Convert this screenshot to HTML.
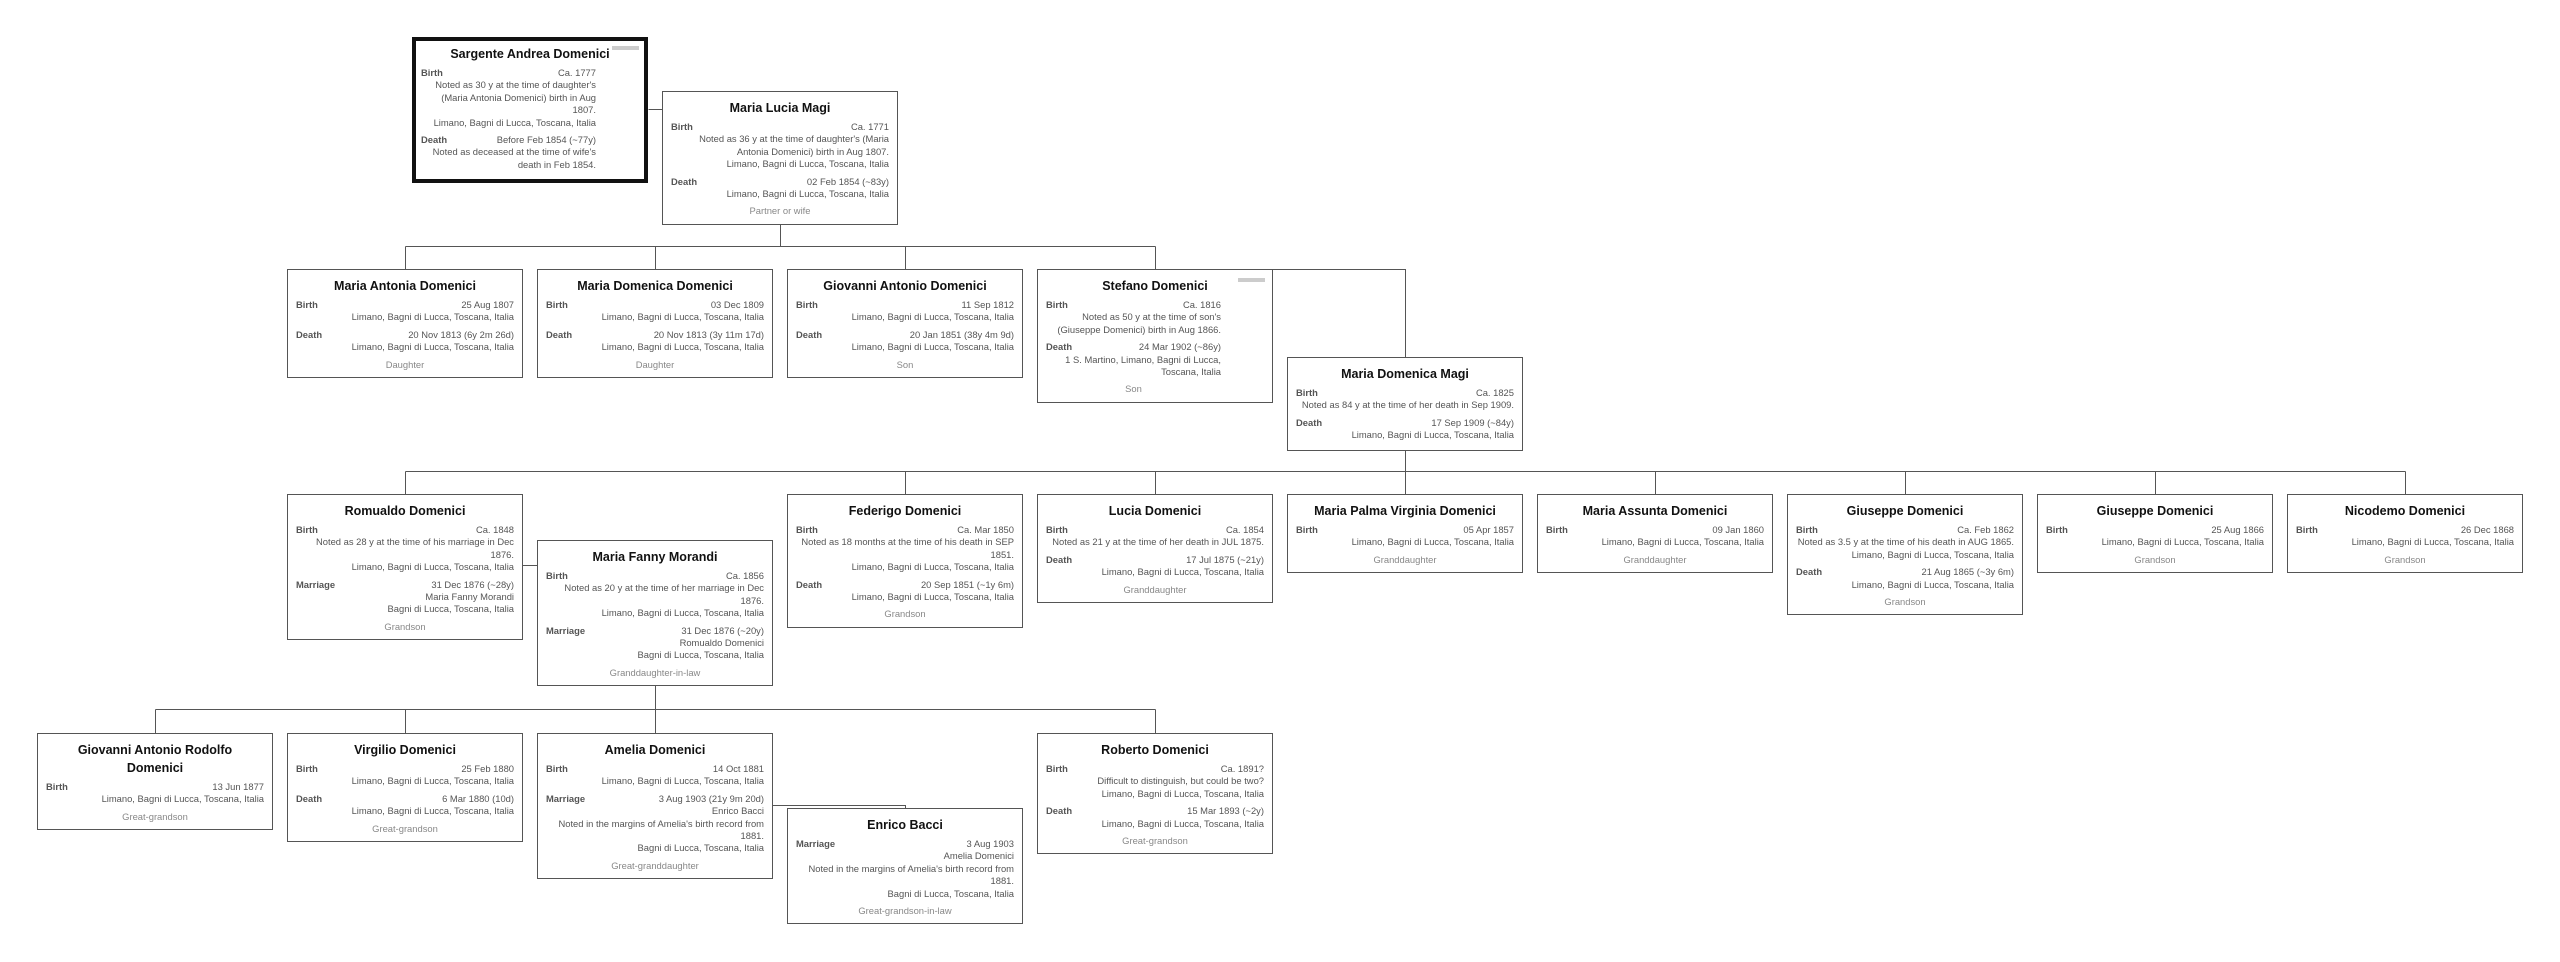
<!DOCTYPE html>
<html><head><meta charset="utf-8">
<style>
html,body{margin:0;padding:0;background:#fff;}
body{width:2560px;height:962px;position:relative;overflow:hidden;font-family:"Liberation Sans",Arial,sans-serif;}
svg.lines{position:absolute;left:0;top:0;}
.b{position:absolute;width:236px;box-sizing:border-box;border:1px solid #555;background:#fff;padding:7px 8px 6px 8px;}
.b.thick{border:4px solid #111;padding:4px 5px 3px 5px;}
.n{font-size:12.5px;font-weight:bold;color:#111;text-align:center;line-height:18px;margin-bottom:4px;}
.e{position:relative;margin-bottom:5px;font-size:9.4px;line-height:12.4px;color:#555;text-align:right;}
.e .l{position:absolute;left:0;top:0;font-weight:bold;color:#555;}
.badge .e{margin-right:43px;}
.r{font-size:9.4px;line-height:12.4px;color:#888;text-align:center;margin-top:2px;}
.bd{position:absolute;width:27px;height:4px;background:#ccc;right:7px;top:8px;}
.thick .bd{right:5px;top:5px;}
</style></head><body>
<svg class="lines" width="2560" height="962" fill="none" stroke="#555" stroke-width="1">
<path d="M648.5 109.5H662.5"/>
<path d="M780.5 222V246.5M405.5 246.5H1155.5M405.5 246.5V269M655.5 246.5V269M905.5 246.5V269M1155.5 246.5V269"/>
<path d="M1273 269.5H1405.5V357"/>
<path d="M1405.5 447V471.5M405.5 471.5H2405.5M405.5 471.5V494M905.5 471.5V494M1155.5 471.5V494M1405.5 471.5V494M1655.5 471.5V494M1905.5 471.5V494M2155.5 471.5V494M2405.5 471.5V494"/>
<path d="M523 565.5H537"/>
<path d="M655.5 686V709.5M155.5 709.5H1155.5M155.5 709.5V733M405.5 709.5V733M655.5 709.5V733M1155.5 709.5V733"/>
<path d="M773 805.5H905.5V808"/>
</svg>

<div class="b thick badge" style="left:412px;top:37px;"><div class="bd"></div>
<div class="n">Sargente Andrea Domenici</div>
<div class="e"><span class="l">Birth</span>Ca. 1777<br>Noted as 30 y at the time of daughter's<br>(Maria Antonia Domenici) birth in Aug<br>1807.<br>Limano, Bagni di Lucca, Toscana, Italia</div>
<div class="e"><span class="l">Death</span>Before Feb 1854 (~77y)<br>Noted as deceased at the time of wife's<br>death in Feb 1854.</div>
</div>

<div class="b" style="left:662px;top:91px;">
<div class="n">Maria Lucia Magi</div>
<div class="e"><span class="l">Birth</span>Ca. 1771<br>Noted as 36 y at the time of daughter's (Maria<br>Antonia Domenici) birth in Aug 1807.<br>Limano, Bagni di Lucca, Toscana, Italia</div>
<div class="e"><span class="l">Death</span>02 Feb 1854 (~83y)<br>Limano, Bagni di Lucca, Toscana, Italia</div>
<div class="r">Partner or wife</div>
</div>

<div class="b" style="left:287px;top:269px;">
<div class="n">Maria Antonia Domenici</div>
<div class="e"><span class="l">Birth</span>25 Aug 1807<br>Limano, Bagni di Lucca, Toscana, Italia</div>
<div class="e"><span class="l">Death</span>20 Nov 1813 (6y 2m 26d)<br>Limano, Bagni di Lucca, Toscana, Italia</div>
<div class="r">Daughter</div>
</div>
<div class="b" style="left:537px;top:269px;">
<div class="n">Maria Domenica Domenici</div>
<div class="e"><span class="l">Birth</span>03 Dec 1809<br>Limano, Bagni di Lucca, Toscana, Italia</div>
<div class="e"><span class="l">Death</span>20 Nov 1813 (3y 11m 17d)<br>Limano, Bagni di Lucca, Toscana, Italia</div>
<div class="r">Daughter</div>
</div>
<div class="b" style="left:787px;top:269px;">
<div class="n">Giovanni Antonio Domenici</div>
<div class="e"><span class="l">Birth</span>11 Sep 1812<br>Limano, Bagni di Lucca, Toscana, Italia</div>
<div class="e"><span class="l">Death</span>20 Jan 1851 (38y 4m 9d)<br>Limano, Bagni di Lucca, Toscana, Italia</div>
<div class="r">Son</div>
</div>
<div class="b badge" style="left:1037px;top:269px;"><div class="bd"></div>
<div class="n">Stefano Domenici</div>
<div class="e"><span class="l">Birth</span>Ca. 1816<br>Noted as 50 y at the time of son's<br>(Giuseppe Domenici) birth in Aug 1866.</div>
<div class="e"><span class="l">Death</span>24 Mar 1902 (~86y)<br>1 S. Martino, Limano, Bagni di Lucca,<br>Toscana, Italia</div>
<div class="r" style="margin-right:43px">Son</div>
</div>
<div class="b" style="left:1287px;top:357px;padding-bottom:3px;">
<div class="n">Maria Domenica Magi</div>
<div class="e"><span class="l">Birth</span>Ca. 1825<br>Noted as 84 y at the time of her death in Sep 1909.</div>
<div class="e"><span class="l">Death</span>17 Sep 1909 (~84y)<br>Limano, Bagni di Lucca, Toscana, Italia</div>
</div>

<div class="b" style="left:287px;top:494px;">
<div class="n">Romualdo Domenici</div>
<div class="e"><span class="l">Birth</span>Ca. 1848<br>Noted as 28 y at the time of his marriage in Dec<br>1876.<br>Limano, Bagni di Lucca, Toscana, Italia</div>
<div class="e"><span class="l">Marriage</span>31 Dec 1876 (~28y)<br>Maria Fanny Morandi<br>Bagni di Lucca, Toscana, Italia</div>
<div class="r">Grandson</div>
</div>
<div class="b" style="left:537px;top:540px;">
<div class="n">Maria Fanny Morandi</div>
<div class="e"><span class="l">Birth</span>Ca. 1856<br>Noted as 20 y at the time of her marriage in Dec<br>1876.<br>Limano, Bagni di Lucca, Toscana, Italia</div>
<div class="e"><span class="l">Marriage</span>31 Dec 1876 (~20y)<br>Romualdo Domenici<br>Bagni di Lucca, Toscana, Italia</div>
<div class="r">Granddaughter-in-law</div>
</div>
<div class="b" style="left:787px;top:494px;">
<div class="n">Federigo Domenici</div>
<div class="e"><span class="l">Birth</span>Ca. Mar 1850<br>Noted as 18 months at the time of his death in SEP<br>1851.<br>Limano, Bagni di Lucca, Toscana, Italia</div>
<div class="e"><span class="l">Death</span>20 Sep 1851 (~1y 6m)<br>Limano, Bagni di Lucca, Toscana, Italia</div>
<div class="r">Grandson</div>
</div>
<div class="b" style="left:1037px;top:494px;">
<div class="n">Lucia Domenici</div>
<div class="e"><span class="l">Birth</span>Ca. 1854<br>Noted as 21 y at the time of her death in JUL 1875.</div>
<div class="e"><span class="l">Death</span>17 Jul 1875 (~21y)<br>Limano, Bagni di Lucca, Toscana, Italia</div>
<div class="r">Granddaughter</div>
</div>
<div class="b" style="left:1287px;top:494px;">
<div class="n">Maria Palma Virginia Domenici</div>
<div class="e"><span class="l">Birth</span>05 Apr 1857<br>Limano, Bagni di Lucca, Toscana, Italia</div>
<div class="r">Granddaughter</div>
</div>
<div class="b" style="left:1537px;top:494px;">
<div class="n">Maria Assunta Domenici</div>
<div class="e"><span class="l">Birth</span>09 Jan 1860<br>Limano, Bagni di Lucca, Toscana, Italia</div>
<div class="r">Granddaughter</div>
</div>
<div class="b" style="left:1787px;top:494px;">
<div class="n">Giuseppe Domenici</div>
<div class="e"><span class="l">Birth</span>Ca. Feb 1862<br>Noted as 3.5 y at the time of his death in AUG 1865.<br>Limano, Bagni di Lucca, Toscana, Italia</div>
<div class="e"><span class="l">Death</span>21 Aug 1865 (~3y 6m)<br>Limano, Bagni di Lucca, Toscana, Italia</div>
<div class="r">Grandson</div>
</div>
<div class="b" style="left:2037px;top:494px;">
<div class="n">Giuseppe Domenici</div>
<div class="e"><span class="l">Birth</span>25 Aug 1866<br>Limano, Bagni di Lucca, Toscana, Italia</div>
<div class="r">Grandson</div>
</div>
<div class="b" style="left:2287px;top:494px;">
<div class="n">Nicodemo Domenici</div>
<div class="e"><span class="l">Birth</span>26 Dec 1868<br>Limano, Bagni di Lucca, Toscana, Italia</div>
<div class="r">Grandson</div>
</div>

<div class="b" style="left:37px;top:733px;">
<div class="n">Giovanni Antonio Rodolfo<br>Domenici</div>
<div class="e"><span class="l">Birth</span>13 Jun 1877<br>Limano, Bagni di Lucca, Toscana, Italia</div>
<div class="r">Great-grandson</div>
</div>
<div class="b" style="left:287px;top:733px;">
<div class="n">Virgilio Domenici</div>
<div class="e"><span class="l">Birth</span>25 Feb 1880<br>Limano, Bagni di Lucca, Toscana, Italia</div>
<div class="e"><span class="l">Death</span>6 Mar 1880 (10d)<br>Limano, Bagni di Lucca, Toscana, Italia</div>
<div class="r">Great-grandson</div>
</div>
<div class="b" style="left:537px;top:733px;">
<div class="n">Amelia Domenici</div>
<div class="e"><span class="l">Birth</span>14 Oct 1881<br>Limano, Bagni di Lucca, Toscana, Italia</div>
<div class="e"><span class="l">Marriage</span>3 Aug 1903 (21y 9m 20d)<br>Enrico Bacci<br>Noted in the margins of Amelia's birth record from<br>1881.<br>Bagni di Lucca, Toscana, Italia</div>
<div class="r">Great-granddaughter</div>
</div>
<div class="b" style="left:787px;top:808px;">
<div class="n">Enrico Bacci</div>
<div class="e"><span class="l">Marriage</span>3 Aug 1903<br>Amelia Domenici<br>Noted in the margins of Amelia's birth record from<br>1881.<br>Bagni di Lucca, Toscana, Italia</div>
<div class="r">Great-grandson-in-law</div>
</div>
<div class="b" style="left:1037px;top:733px;">
<div class="n">Roberto Domenici</div>
<div class="e"><span class="l">Birth</span>Ca. 1891?<br>Difficult to distinguish, but could be two?<br>Limano, Bagni di Lucca, Toscana, Italia</div>
<div class="e"><span class="l">Death</span>15 Mar 1893 (~2y)<br>Limano, Bagni di Lucca, Toscana, Italia</div>
<div class="r">Great-grandson</div>
</div>
</body></html>
